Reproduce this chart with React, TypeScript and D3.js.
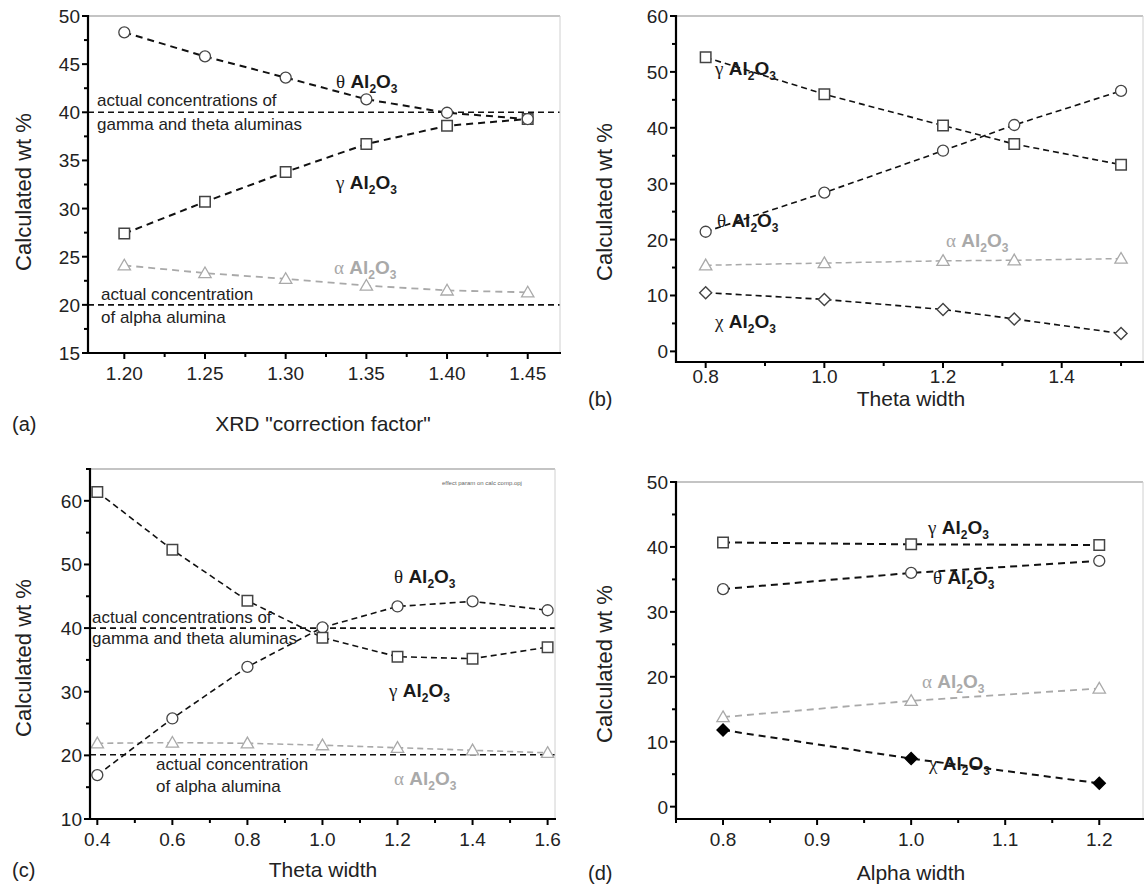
import React from 'react';
import * as d3 from 'd3';

const FONT = "'Liberation Sans', Arial, Helvetica, sans-serif";
const SERIF = "'Liberation Serif', 'Times New Roman', serif";
const GRAY = '#a9a9a9';
const DARK = '#1a1a1a';
const MARK = '#444';

// ---------- Panel (a) ----------
const aX = [1.2, 1.25, 1.3, 1.35, 1.4, 1.45];
const aTheta = [48.3, 45.8, 43.6, 41.35, 39.95, 39.3];
const aGamma = [27.4, 30.7, 33.8, 36.7, 38.6, 39.3];
const aAlpha = [24.1, 23.3, 22.7, 22.0, 21.5, 21.3];
const aRefs = [40, 20];
const aXTicks = [1.2, 1.25, 1.3, 1.35, 1.4, 1.45];
const aXMinor = [1.225, 1.275, 1.325, 1.375, 1.425];
const aYTicks = [15, 20, 25, 30, 35, 40, 45, 50];
const aYMinor = [17.5, 22.5, 27.5, 32.5, 37.5, 42.5, 47.5];

// ---------- Panel (b) ----------
const bX = [0.8, 1.0, 1.2, 1.32, 1.5];
const bGamma = [52.6, 46.0, 40.4, 37.1, 33.4];
const bTheta = [21.4, 28.4, 35.9, 40.5, 46.6];
const bAlpha = [15.4, 15.8, 16.2, 16.3, 16.6];
const bChi = [10.5, 9.3, 7.5, 5.8, 3.2];
const bXTicks = [0.8, 1.0, 1.2, 1.4];
const bXMinor = [0.9, 1.1, 1.3, 1.5];
const bYTicks = [0, 10, 20, 30, 40, 50, 60];
const bYMinor = [5, 15, 25, 35, 45, 55];

// ---------- Panel (c) ----------
const cX = [0.4, 0.6, 0.8, 1.0, 1.2, 1.4, 1.6];
const cGamma = [61.4, 52.3, 44.3, 38.5, 35.5, 35.2, 37.0];
const cTheta = [16.9, 25.8, 33.9, 40.1, 43.4, 44.2, 42.8];
const cAlpha = [21.9, 22.0, 21.9, 21.6, 21.2, 20.8, 20.4];
const cRefs = [40, 20.1];
const cXTicks = [0.4, 0.6, 0.8, 1.0, 1.2, 1.4, 1.6];
const cXMinor = [0.5, 0.7, 0.9, 1.1, 1.3, 1.5];
const cYTicks = [10, 20, 30, 40, 50, 60];
const cYMinor = [15, 25, 35, 45, 55, 65];

// ---------- Panel (d) ----------
const dX = [0.8, 1.0, 1.2];
const dGamma = [40.7, 40.4, 40.3];
const dTheta = [33.5, 36.0, 37.85];
const dAlpha = [13.8, 16.3, 18.2];
const dChi = [11.8, 7.4, 3.6];
const dXTicks = [0.8, 0.9, 1.0, 1.1, 1.2];
const dXMinor = [0.75, 0.85, 0.95, 1.05, 1.15];
const dYTicks = [0, 10, 20, 30, 40, 50];
const dYMinor = [5, 15, 25, 35, 45];

type Marker = 'circle' | 'square' | 'triangle' | 'diamond' | 'diamondFilled';
type Series = { xs: number[]; ys: number[]; marker: Marker; color: string; dash: string; width: number };
type Label = { x: number; y: number; greek: string; color: string };
type Note = { x: number; y: number; text: string; size?: number; color?: string };

type PanelCfg = {
  id: string;
  box: { l: number; r: number; t: number; b: number };
  xDom: [number, number];
  yDom: [number, number];
  xTicks: number[];
  xMinor: number[];
  yTicks: number[];
  yMinor: number[];
  xFmt: string;
  xLabelDy: number;
  refs: number[];
  series: Series[];
  labels: Label[];
  notes: Note[];
  xTitle: string;
  xTitleX: number;
  xTitleY: number;
  tag: string;
  tagX: number;
  yTitleX: number;
  yTitleY: number;
};

const panels: PanelCfg[] = [
  {
    id: 'a',
    box: { l: 88, r: 560, t: 16, b: 353 },
    xDom: [1.1775, 1.47],
    yDom: [15, 50],
    xTicks: aXTicks, xMinor: aXMinor, yTicks: aYTicks, yMinor: aYMinor,
    xFmt: '.2f', xLabelDy: 27,
    refs: aRefs,
    series: [
      { xs: aX, ys: aAlpha, marker: 'triangle', color: GRAY, dash: '7,5', width: 1.8 },
      { xs: aX, ys: aGamma, marker: 'square', color: DARK, dash: '7,5', width: 2 },
      { xs: aX, ys: aTheta, marker: 'circle', color: DARK, dash: '7,5', width: 2 },
    ],
    labels: [
      { x: 336, y: 88, greek: 'θ', color: DARK },
      { x: 336, y: 189, greek: 'γ', color: DARK },
      { x: 334, y: 274, greek: 'α', color: GRAY },
    ],
    notes: [
      { x: 97, y: 106, text: 'actual concentrations of' },
      { x: 97, y: 130, text: 'gamma and theta aluminas' },
      { x: 101, y: 300, text: 'actual concentration' },
      { x: 101, y: 323, text: 'of alpha alumina' },
    ],
    xTitle: 'XRD "correction factor"', xTitleX: 323, xTitleY: 431,
    tag: '(a)', tagX: 12,
    yTitleX: 23, yTitleY: 192,
  },
  {
    id: 'b',
    box: { l: 676, r: 1143, t: 16, b: 362 },
    xDom: [0.75, 1.537],
    yDom: [-1.9, 60],
    xTicks: bXTicks, xMinor: bXMinor, yTicks: bYTicks, yMinor: bYMinor,
    xFmt: '.1f', xLabelDy: 21,
    refs: [],
    series: [
      { xs: bX, ys: bAlpha, marker: 'triangle', color: GRAY, dash: '6,4', width: 1.5 },
      { xs: bX, ys: bChi, marker: 'diamond', color: DARK, dash: '6,4', width: 1.6 },
      { xs: bX, ys: bTheta, marker: 'circle', color: DARK, dash: '6,4', width: 1.6 },
      { xs: bX, ys: bGamma, marker: 'square', color: DARK, dash: '6,4', width: 1.6 },
    ],
    labels: [
      { x: 715, y: 75, greek: 'γ', color: DARK },
      { x: 717, y: 227, greek: 'θ', color: DARK },
      { x: 946, y: 247, greek: 'α', color: GRAY },
      { x: 715, y: 328, greek: 'χ', color: DARK },
    ],
    notes: [],
    xTitle: 'Theta width', xTitleX: 911, xTitleY: 406,
    tag: '(b)', tagX: 588,
    yTitleX: 604, yTitleY: 202,
  },
  {
    id: 'c',
    box: { l: 90, r: 555, t: 469, b: 819 },
    xDom: [0.3805, 1.6197],
    yDom: [10, 65],
    xTicks: cXTicks, xMinor: cXMinor, yTicks: cYTicks, yMinor: cYMinor,
    xFmt: '.1f', xLabelDy: 27,
    refs: cRefs,
    series: [
      { xs: cX, ys: cAlpha, marker: 'triangle', color: GRAY, dash: '6,4', width: 1.6 },
      { xs: cX, ys: cTheta, marker: 'circle', color: DARK, dash: '6,4', width: 1.6 },
      { xs: cX, ys: cGamma, marker: 'square', color: DARK, dash: '6,4', width: 1.6 },
    ],
    labels: [
      { x: 394, y: 583, greek: 'θ', color: DARK },
      { x: 389, y: 697, greek: 'γ', color: DARK },
      { x: 394, y: 785, greek: 'α', color: GRAY },
    ],
    notes: [
      { x: 92, y: 623, text: 'actual concentrations of' },
      { x: 92, y: 644, text: 'gamma and theta aluminas' },
      { x: 156, y: 770, text: 'actual concentration' },
      { x: 156, y: 792, text: 'of alpha alumina' },
      { x: 442, y: 485, text: 'effect param on calc comp.opj', size: 6, color: '#666' },
    ],
    xTitle: 'Theta width', xTitleX: 323, xTitleY: 877,
    tag: '(c)', tagX: 12,
    yTitleX: 23, yTitleY: 658,
  },
  {
    id: 'd',
    box: { l: 676, r: 1143, t: 482, b: 819 },
    xDom: [0.75, 1.2465],
    yDom: [-1.9, 50],
    xTicks: dXTicks, xMinor: dXMinor, yTicks: dYTicks, yMinor: dYMinor,
    xFmt: '.1f', xLabelDy: 27,
    refs: [],
    series: [
      { xs: dX, ys: dAlpha, marker: 'triangle', color: GRAY, dash: '7,5', width: 1.8 },
      { xs: dX, ys: dChi, marker: 'diamondFilled', color: DARK, dash: '7,5', width: 2 },
      { xs: dX, ys: dTheta, marker: 'circle', color: DARK, dash: '7,5', width: 2 },
      { xs: dX, ys: dGamma, marker: 'square', color: DARK, dash: '7,5', width: 2 },
    ],
    labels: [
      { x: 928, y: 534, greek: 'γ', color: DARK },
      { x: 933, y: 584, greek: 'θ', color: DARK },
      { x: 922, y: 688, greek: 'α', color: GRAY },
      { x: 929, y: 770, greek: 'χ', color: DARK },
    ],
    notes: [],
    xTitle: 'Alpha width', xTitleX: 911, xTitleY: 880,
    tag: '(d)', tagX: 588,
    yTitleX: 604, yTitleY: 664,
  },
];

const symCircle = d3.symbol().type(d3.symbolCircle).size(Math.PI * 5.5 * 5.5)();
const symSquare = d3.symbol().type(d3.symbolSquare).size(10.5 * 10.5)();
const symTriangle = d3.symbol().type(d3.symbolTriangle).size(66)();
const symDiamond = d3.symbol().type(d3.symbolSquare).size(8.5 * 8.5)();

function MarkerShape({ m, x, y, color }: { m: Marker; x: number; y: number; color: string }) {
  const stroke = color === GRAY ? GRAY : MARK;
  if (m === 'circle') return <path d={symCircle!} transform={`translate(${x},${y})`} fill="#fff" stroke={stroke} strokeWidth={1.3} />;
  if (m === 'square') return <path d={symSquare!} transform={`translate(${x},${y})`} fill="#fff" stroke={stroke} strokeWidth={1.5} />;
  if (m === 'triangle') return <path d={symTriangle!} transform={`translate(${x},${y + 1})`} fill="#fff" stroke={stroke} strokeWidth={1.3} />;
  if (m === 'diamond') return <path d={symDiamond!} transform={`translate(${x},${y}) rotate(45)`} fill="#fff" stroke={stroke} strokeWidth={1.4} />;
  return <path d={symDiamond!} transform={`translate(${x},${y}) rotate(45)`} fill="#000" stroke="#000" strokeWidth={1.4} />;
}

function Chem({ x, y, greek, color }: Label) {
  return (
    <text x={x} y={y} fill={color} fontFamily={FONT} fontSize={19} fontWeight="bold">
      <tspan fontFamily={SERIF} fontWeight="normal" fontSize={19}>{greek}</tspan>
      <tspan>{'\u00a0Al'}</tspan>
      <tspan fontSize={12} dy={5}>2</tspan>
      <tspan dy={-5}>O</tspan>
      <tspan fontSize={12} dy={5}>3</tspan>
    </text>
  );
}

function Panel({ cfg }: { cfg: PanelCfg }) {
  const { box } = cfg;
  const x = d3.scaleLinear().domain(cfg.xDom).range([box.l, box.r]);
  const y = d3.scaleLinear().domain(cfg.yDom).range([box.b, box.t]);
  const fmt = d3.format(cfg.xFmt);
  const line = d3.line<[number, number]>().x(d => x(d[0])).y(d => y(d[1]));
  return (
    <g>
      {cfg.refs.map((r, i) => (
        <line key={'r' + i} x1={box.l} x2={box.r} y1={y(r)} y2={y(r)} stroke="#111" strokeWidth={1.6} strokeDasharray="6,4" />
      ))}
      {cfg.series.map((s, i) => (
        <path key={'l' + i} d={line(s.xs.map((v, j) => [v, s.ys[j]]) as [number, number][])!} fill="none" stroke={s.color === GRAY ? GRAY : '#111'} strokeWidth={s.width} strokeDasharray={s.dash} />
      ))}
      {cfg.series.map((s, i) => (
        <g key={'m' + i}>
          {s.xs.map((v, j) => (
            <MarkerShape key={j} m={s.marker} x={x(v)} y={y(s.ys[j])} color={s.color} />
          ))}
        </g>
      ))}
      <line x1={box.l} x2={box.r} y1={box.t} y2={box.t} stroke="#8a8a8a" strokeWidth={1.2} />
      <line x1={box.r} x2={box.r} y1={box.t} y2={box.b} stroke="#d0d0d0" strokeWidth={1} />
      <line x1={box.l} x2={box.l} y1={box.t - 1} y2={box.b + 1} stroke="#000" strokeWidth={2.2} />
      <line x1={box.l - 1} x2={box.r + 1} y1={box.b} y2={box.b} stroke="#000" strokeWidth={2.2} />
      {cfg.xTicks.map((t, i) => (
        <g key={'xt' + i}>
          <line x1={x(t)} x2={x(t)} y1={box.b} y2={box.b + 6} stroke="#000" strokeWidth={2} />
          <text x={x(t)} y={box.b + cfg.xLabelDy} textAnchor="middle" fontFamily={FONT} fontSize={19} fill="#222">{fmt(t)}</text>
        </g>
      ))}
      {cfg.xMinor.map((t, i) => (
        <line key={'xm' + i} x1={x(t)} x2={x(t)} y1={box.b} y2={box.b + 4} stroke="#000" strokeWidth={2} />
      ))}
      {cfg.yTicks.map((t, i) => (
        <g key={'yt' + i}>
          <line x1={box.l - 6} x2={box.l} y1={y(t)} y2={y(t)} stroke="#000" strokeWidth={2} />
          <text x={box.l - 8} y={y(t) + 7} textAnchor="end" fontFamily={FONT} fontSize={19} fill="#222">{String(t)}</text>
        </g>
      ))}
      {cfg.yMinor.map((t, i) => (
        <line key={'ym' + i} x1={box.l - 4} x2={box.l} y1={y(t)} y2={y(t)} stroke="#000" strokeWidth={2} />
      ))}
      {cfg.notes.map((n, i) => (
        <text key={'n' + i} x={n.x} y={n.y} fontFamily={FONT} fontSize={n.size ?? 17} fill={n.color ?? '#222'}>{n.text}</text>
      ))}
      {cfg.labels.map((l, i) => (
        <Chem key={'c' + i} {...l} />
      ))}
      <text x={cfg.xTitleX} y={cfg.xTitleY} textAnchor="middle" fontFamily={FONT} fontSize={21} fill="#222">{cfg.xTitle}</text>
      <text x={cfg.tagX} y={cfg.xTitleY} fontFamily={FONT} fontSize={20} fill="#222">{cfg.tag}</text>
      <text transform={`translate(${cfg.yTitleX},${cfg.yTitleY}) rotate(-90)`} textAnchor="middle" dominantBaseline="central" fontFamily={FONT} fontSize={22} fill="#222">Calculated wt %</text>
    </g>
  );
}

export default function App() {
  return (
    <svg width={1147} height={885} viewBox="0 0 1147 885" style={{ display: 'block', position: 'absolute', left: 0, top: 0, background: '#fff' }}>
      <rect x={0} y={0} width={1147} height={885} fill="#fff" />
      {panels.map(p => (
        <Panel key={p.id} cfg={p} />
      ))}
    </svg>
  );
}
